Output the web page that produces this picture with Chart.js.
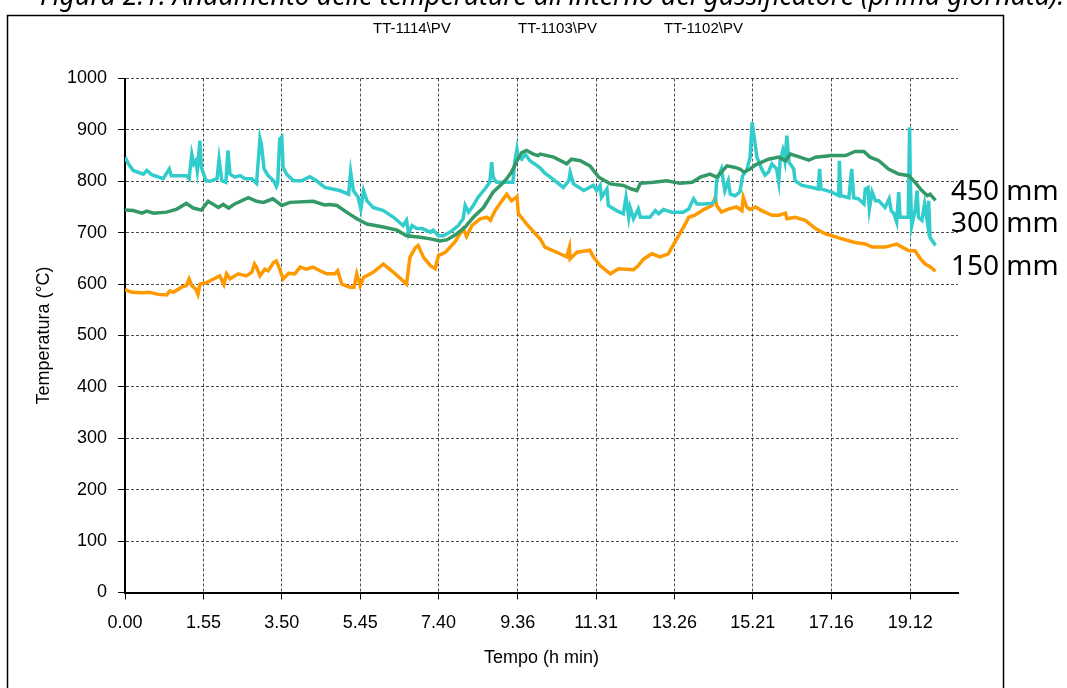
<!DOCTYPE html>
<html>
<head>
<meta charset="utf-8">
<script src="https://cdn.jsdelivr.net/npm/chart.js@4.4.1/dist/chart.umd.min.js"></script>
<style>
    body { margin: 0; background: #fff; }
    #grafico { display: block; }
</style>
</head>
<body>
<canvas id="grafico" width="1067" height="688"></canvas>
<script>
// etichette asse x (h.min) e posizione in minuti
const tickEtichette = ["0.00", "1.55", "3.50", "5.45", "7.40", "9.36", "11.31", "13.26", "15.21", "17.16", "19.12"];
const tickMinuti = [0, 115, 230, 345, 460, 576, 691, 806, 921, 1036, 1152];

const nomiSerie = ["TT-1114\\PV", "TT-1103\\PV", "TT-1102\\PV"];
const quote = ["450 mm", "300 mm", "150 mm"];

// TT-1114 (450 mm)
const tempo1114 = [0, 12, 25, 32, 42, 61, 76, 90, 100, 112, 122, 137, 144, 152, 161, 181, 193, 203, 217, 230, 242, 276, 293, 301,
    311, 325, 340, 355, 379, 399, 413, 433, 448, 462, 472, 487, 499, 511, 526, 540, 553, 560, 567, 575, 582, 589, 599, 606,
    609, 629, 648, 655, 668, 682, 695, 712, 731, 743, 751, 756, 775, 795, 814, 832, 844, 858, 868, 875, 883, 895, 902, 908,
    917, 925, 944, 959, 969, 976, 988, 1003, 1013, 1037, 1057, 1071, 1084, 1093, 1106, 1120, 1135, 1150, 1159, 1169, 1177, 1181, 1189];
const valori1114 = [744, 743, 738, 742, 738, 740, 746, 757, 748, 744, 761, 749, 755, 748, 756, 768, 761, 759, 766, 753, 759, 761, 754, 755,
    753, 740, 727, 717, 711, 705, 694, 691, 688, 684, 686, 698, 711, 730, 749, 779, 795, 805, 818, 840, 856, 860, 853, 850,
    853, 847, 834, 843, 840, 830, 808, 795, 792, 785, 782, 796, 798, 801, 796, 798, 808, 814, 808, 818, 830, 827, 824, 818,
    824, 832, 843, 847, 840, 853, 848, 841, 847, 850, 850, 858, 858, 847, 840, 824, 814, 811, 798, 782, 772, 775, 763];

// TT-1103 (300 mm)
const tempo1103 = [0, 5, 12, 27, 32, 39, 56, 65, 68, 90, 94, 98, 101, 104, 106, 110, 112, 119, 125, 135, 138, 142, 148, 151, 154,
    161, 169, 176, 186, 193, 198, 200, 204, 210, 218, 222, 224, 227, 230, 232, 237, 247, 259, 271, 281, 293, 301, 315, 328,
    331, 335, 342, 346, 350, 355, 364, 379, 394, 408, 413, 416, 421, 428, 436, 448, 452, 460, 467, 479, 489, 496, 499, 504,
    511, 518, 528, 535, 538, 540, 545, 569, 572, 575, 577, 582, 587, 594, 609, 616, 624, 643, 651, 653, 658, 673, 687, 692,
    697, 699, 707, 709, 721, 731, 735, 739, 741, 746, 753, 756, 770, 778, 783, 790, 802, 819, 827, 834, 839, 849, 861, 866,
    868, 875, 880, 885, 888, 895, 902, 906, 912, 917, 920, 924, 927, 934, 939, 944, 949, 956, 959, 961, 965, 968, 971, 974,
    981, 983, 993, 1008, 1017, 1019, 1021, 1037, 1047, 1048, 1050, 1062, 1066, 1069, 1076, 1084, 1086, 1090, 1092, 1096,
    1101, 1106, 1110, 1115, 1121, 1124, 1128, 1132, 1135, 1137, 1145, 1149, 1151, 1152, 1154, 1159, 1162, 1164, 1169, 1173,
    1177, 1179, 1181, 1186, 1189];
const valori1103 = [847, 834, 821, 814, 821, 813, 805, 824, 811, 811, 805, 853, 834, 840, 821, 879, 827, 801, 800, 805, 843, 801, 798, 860, 814,
    808, 811, 805, 805, 796, 884, 873, 824, 811, 801, 790, 798, 882, 886, 827, 814, 801, 801, 809, 801, 788, 786, 782, 775,
    818, 782, 769, 746, 782, 762, 749, 743, 730, 714, 724, 698, 714, 708, 708, 701, 705, 694, 694, 703, 714, 727, 753, 740,
    753, 769, 785, 798, 837, 808, 798, 798, 840, 863, 846, 843, 853, 840, 826, 816, 808, 788, 801, 817, 795, 782, 792, 782,
    792, 769, 785, 753, 743, 737, 769, 730, 749, 727, 746, 730, 730, 743, 737, 745, 740, 740, 746, 766, 756, 756, 757, 762,
    801, 824, 782, 801, 775, 772, 779, 811, 821, 847, 915, 876, 847, 824, 812, 818, 834, 824, 799, 840, 860, 840, 889, 837,
    824, 801, 792, 788, 785, 824, 785, 779, 772, 840, 772, 768, 824, 768, 766, 756, 785, 788, 746, 779,
    762, 762, 756, 749, 766, 743, 737, 721, 779, 730, 730, 730, 905, 808, 713, 743, 782, 730, 724, 756,
    721, 762, 691, 681, 675];

// TT-1102 (150 mm)
const tempo1102 = [0, 10, 27, 35, 49, 61, 66, 71, 83, 90, 94, 98, 104, 107, 110, 120, 130, 139, 145, 149, 154, 166, 178, 186, 190,
    193, 198, 205, 210, 218, 222, 227, 232, 240, 249, 257, 266, 276, 286, 296, 308, 312, 318, 330, 336, 340, 345, 350, 364,
    379, 394, 413, 418, 426, 430, 438, 448, 455, 460, 470, 484, 496, 501, 509, 521, 531, 536, 543, 553, 560, 567, 575, 577,
    589, 602, 609, 616, 638, 648, 652, 653, 663, 682, 687, 697, 712, 724, 746, 753, 761, 773, 785, 797, 805, 814, 822, 827,
    836, 849, 861, 866, 868, 875, 885, 897, 905, 907, 912, 917, 925, 934, 949, 959, 969, 971, 983, 998, 1013, 1027, 1052,
    1071, 1086, 1096, 1115, 1132, 1140, 1150, 1159, 1167, 1174, 1181, 1189];
const valori1102 = [589, 584, 583, 584, 580, 579, 587, 584, 594, 597, 610, 597, 590, 580, 600, 603, 610, 616, 599, 620, 610, 620, 616, 623, 639,
    633, 616, 629, 626, 642, 645, 629, 610, 621, 620, 633, 629, 633, 626, 620, 620, 626, 600, 594, 594, 620, 597, 613, 623,
    639, 623, 600, 652, 671, 675, 652, 636, 630, 656, 662, 682, 708, 693, 714, 727, 730, 724, 743, 762, 775, 762, 770, 737,
    717, 698, 688, 672, 659, 653, 672, 649, 662, 666, 653, 636, 620, 630, 628, 636, 649, 659, 653, 659, 678, 698, 717, 730,
    734, 745, 753, 769, 753, 740, 746, 750, 743, 769, 750, 745, 750, 743, 734, 734, 738, 727, 730, 724, 708, 698, 688,
    681, 678, 672, 672, 678, 672, 665, 665, 649, 639, 634, 625];

function punti(tempo, valori) {
    return tempo.map((t, i) => ({ x: t, y: valori[i] }));
}

// cornice, titolo tagliato, legenda e quote a destra
const decorazioni = {
    id: 'decorazioni',
    afterDraw(chart) {
        const ctx = chart.ctx;
        ctx.save();
        ctx.strokeStyle = '#000';
        ctx.lineWidth = 1.5;
        ctx.strokeRect(7.5, 15.5, 996, 700);

        const titolo = "Figura 2.1: Andamento delle temperature all'interno del gassificatore (prima giornata).";
        ctx.font = 'italic 22px "Noto Sans"';
        let w = ctx.measureText(titolo).width;
        ctx.font = 'italic ' + (22 * 1025 / w).toFixed(1) + 'px "Noto Sans"';
        ctx.fillStyle = '#000';
        ctx.textBaseline = 'alphabetic';
        ctx.fillText(titolo, 40, 5);

        ctx.font = '15px "Liberation Sans", Arial';
        const xLegenda = [373, 518, 664];
        nomiSerie.forEach((n, i) => ctx.fillText(n, xLegenda[i], 33));

        ctx.font = '28px "Noto Sans"';
        const yQuote = [200, 232, 275];
        quote.forEach((q, i) => ctx.fillText(q, 951, yQuote[i]));
        ctx.restore();
    }
};

Chart.defaults.font.family = "'Liberation Sans', Arial, sans-serif";
Chart.defaults.color = '#000';

const ctx = document.getElementById("grafico").getContext("2d");
const grafico = new Chart(ctx, {
    type: 'line',
    data: {
        datasets: [
            { label: nomiSerie[0], data: punti(tempo1114, valori1114), borderColor: '#339966' },
            { label: nomiSerie[1], data: punti(tempo1103, valori1103), borderColor: '#33CCCC' },
            { label: nomiSerie[2], data: punti(tempo1102, valori1102), borderColor: '#FF9900' }
        ]
    },
    options: {
        animation: false,
        responsive: false,
        layout: { padding: { left: 0, top: 78.5, right: 109, bottom: 0 } },
        elements: {
            point: { radius: 0 },
            line: { borderWidth: 3.5, tension: 0, fill: false }
        },
        plugins: {
            legend: { display: false },
            tooltip: { enabled: false }
        },
        scales: {
            x: {
                type: 'linear',
                min: 0,
                max: 1222,
                afterBuildTicks: s => { s.ticks = tickMinuti.map(v => ({ value: v })); },
                afterFit: s => { s.height = 95.5; },
                ticks: {
                    callback: (v, i) => tickEtichette[i],
                    font: { size: 18 },
                    padding: 13,
                    maxRotation: 0,
                    autoSkip: false
                },
                grid: { color: 'rgba(0,0,0,0.7)', lineWidth: 1, tickLength: 7, tickColor: '#000' },
                border: { color: '#000', width: 2, dash: [3, 2] },
                title: { display: true, text: 'Tempo (h min)', font: { size: 18 }, padding: { top: 0, bottom: 19 } }
            },
            y: {
                min: 0,
                max: 1000,
                afterFit: s => { s.width = 125; },
                ticks: { stepSize: 100, font: { size: 18 }, padding: 11, callback: v => String(v) },
                grid: { color: 'rgba(0,0,0,0.7)', lineWidth: 1, tickLength: 7, tickColor: '#000' },
                border: { color: '#000', width: 2, dash: [3, 2] },
                title: { display: true, text: 'Temperatura (°C)', font: { size: 18 }, padding: { top: 33, bottom: 0 } }
            }
        }
    },
    plugins: [decorazioni]
});
</script>
</body>
</html>
